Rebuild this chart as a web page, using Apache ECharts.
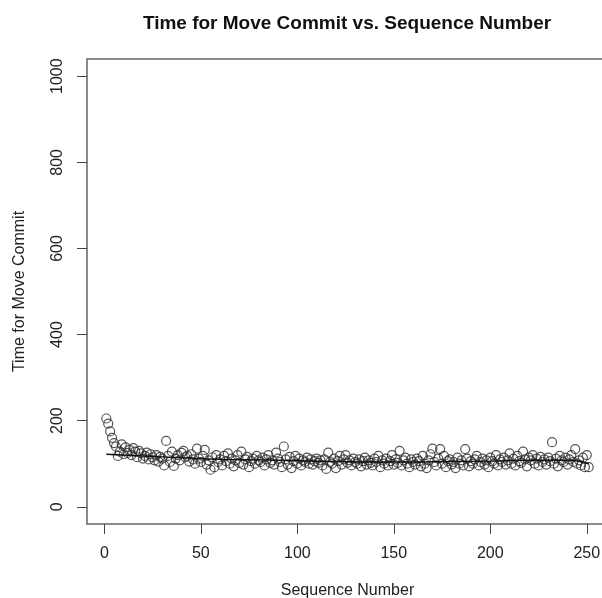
<!DOCTYPE html>
<html>
<head>
<meta charset="utf-8">
<script src="https://cdn.jsdelivr.net/npm/echarts@6/dist/echarts.min.js"></script>
<style>
    html, body { margin: 0; padding: 0; background: #fff; }
    #main { width: 602px; height: 598px; }
</style>
</head>
<body>
<div id="main"></div>
<script>
    // move commit times, sequence numbers 1..251
    var commitTimes = [
        205, 193, 175, 160, 148, 140, 118, 128, 145, 122,
        138, 125, 132, 120, 136, 128, 115, 130, 124, 112,
        118, 126, 110, 122, 115, 108, 120, 105, 116, 112,
        96, 153, 118, 104, 128, 95, 112, 120, 108, 125,
        130, 115, 118, 105, 122, 110, 100, 135, 112, 104,
        118, 132, 98, 108, 86, 115, 92, 120, 104, 110,
        96, 118, 106, 124, 100, 112, 94, 108, 120, 102,
        128, 98, 110, 116, 92, 106, 112, 100, 118, 108,
        104, 114, 96, 110, 120, 102, 108, 98, 126, 112,
        104, 92, 140, 110, 98, 116, 90, 106, 118, 100,
        112, 96, 108, 104, 114, 100, 110, 98, 106, 112,
        102, 108, 96, 110, 88, 126, 104, 100, 112, 90,
        106, 118, 98, 110, 120, 102, 108, 96, 112, 104,
        100, 110, 94, 106, 114, 98, 108, 102, 96, 112,
        104, 118, 92, 108, 100, 112, 96, 106, 120, 98,
        110, 102, 130, 96, 108, 114, 100, 92, 110, 104,
        98, 112, 106, 94, 118, 100, 90, 108, 122, 135,
        104, 96, 112, 134, 100, 118, 92, 106, 110, 98,
        104, 90, 114, 100, 108, 96, 134, 112, 94, 106,
        100, 110, 118, 96, 104, 112, 98, 108, 92, 114,
        106, 100, 120, 96, 110, 104, 114, 98, 108, 124,
        100, 112, 96, 118, 106, 102, 128, 110, 94, 114,
        108, 120, 100, 112, 96, 116, 104, 110, 98, 114,
        106, 150, 100, 112, 94, 118, 108, 104, 114, 98,
        110, 120, 104, 134, 100, 108, 96, 114, 92, 120,
        92
    ];
    // smoothed fit drawn through the points
    var fitSeq = [1, 20, 40, 60, 80, 100, 120, 140, 160, 180, 200, 220, 240, 251];
    var fitVal = [122, 118, 114, 110, 109, 107, 105, 104, 104, 105, 106, 108, 108, 100];

    var xTicks = [0, 50, 100, 150, 200, 250];
    var yTicks = [0, 200, 400, 600, 800, 1000];

    var pts = [];
    for (var i = 0; i < commitTimes.length; i++) {
        pts.push([i + 1, commitTimes[i]]);
    }
    var fit = [];
    for (var j = 0; j < fitSeq.length; j++) {
        fit.push([fitSeq[j], fitVal[j]]);
    }

    var font = 'Liberation Sans';
    var plain = function (v) { return String(v); };
    var myChart = echarts.init(document.getElementById('main'));
    var option = {
        backgroundColor: '#fff',
        animation: false,
        title: {
            text: 'Time for Move Commit vs. Sequence Number',
            left: 347,
            textAlign: 'center',
            top: 14,
            padding: 0,
            textStyle: { fontFamily: font, fontSize: 19, fontWeight: 'bold', color: '#111' }
        },
        grid: {
            left: 87,
            top: 59,
            width: 521,
            height: 465,
            outerBoundsMode: 'none',
            containLabel: false,
            show: true,
            borderColor: '#666',
            borderWidth: 1.5,
            backgroundColor: 'transparent'
        },
        xAxis: {
            type: 'value',
            min: -9,
            max: 261,
            name: 'Sequence Number',
            nameLocation: 'middle',
            nameGap: 59,
            nameTextStyle: { fontFamily: font, fontSize: 16, color: '#222' },
            axisLine: { show: false, onZero: false },
            axisTick: { show: true, customValues: xTicks, length: 10, lineStyle: { color: '#444' } },
            axisLabel: { customValues: xTicks, formatter: plain, margin: 22, fontFamily: font, fontSize: 16, color: '#222' },
            splitLine: { show: false }
        },
        yAxis: {
            type: 'value',
            min: -40,
            max: 1040,
            name: 'Time for Move Commit',
            nameLocation: 'middle',
            nameGap: 59,
            nameTextStyle: { fontFamily: font, fontSize: 16, color: '#222' },
            axisLine: { show: false, onZero: false },
            axisTick: { show: true, customValues: yTicks, length: 10, lineStyle: { color: '#444' } },
            axisLabel: { customValues: yTicks, formatter: plain, margin: 21, rotate: 90, fontFamily: font, fontSize: 16, color: '#222' },
            splitLine: { show: false }
        },
        series: [
            {
                type: 'scatter',
                data: pts,
                symbol: 'circle',
                symbolSize: 9,
                itemStyle: { color: 'rgba(0,0,0,0)', borderColor: '#2a2a2a', borderWidth: 1.2 }
            },
            {
                type: 'line',
                data: fit,
                smooth: true,
                showSymbol: false,
                lineStyle: { color: '#111', width: 1.4 }
            }
        ]
    };
    myChart.setOption(option);
</script>
</body>
</html>
